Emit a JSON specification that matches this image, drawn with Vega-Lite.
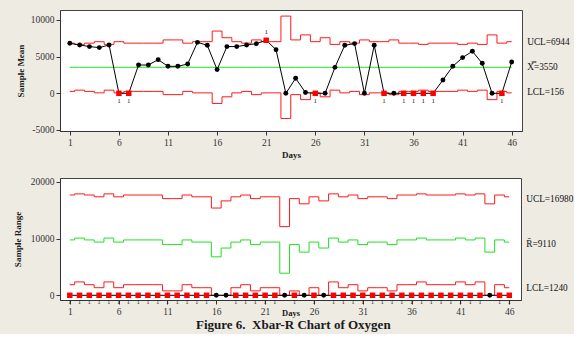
{
  "$schema": "https://vega.github.io/schema/vega-lite/v6.json",
  "background": "#EEEBE3",
  "padding": {"left": 12, "top": 9, "right": 0, "bottom": 2},
  "spacing": 16,
  "title": {"text": "Figure 6.\u00a0 Xbar-R Chart of Oxygen", "orient": "bottom", "anchor": "middle", "font": "Liberation Serif", "fontSize": 13, "fontWeight": "bold", "color": "#1a1a1a", "offset": 2},
  "datasets": {
    "d": [
      {"day":1,"mean":6820,"ux":6840,"cx":3550,"lx":260,"ox":0,"r":0,"ur":17700,"cr":9770,"lr":1870,"or":1},
      {"day":2,"mean":6590,"ux":6670,"cx":3550,"lx":430,"ox":0,"r":0,"ur":17900,"cr":10100,"lr":2360,"or":1},
      {"day":3,"mean":6370,"ux":6840,"cx":3550,"lx":260,"ox":0,"r":0,"ur":17700,"cr":9770,"lr":1870,"or":1},
      {"day":4,"mean":6230,"ux":7040,"cx":3550,"lx":60,"ox":0,"r":0,"ur":17380,"cr":9390,"lr":1340,"or":1},
      {"day":5,"mean":6590,"ux":6670,"cx":3550,"lx":430,"ox":0,"r":0,"ur":17900,"cr":10100,"lr":2360,"or":1},
      {"day":6,"mean":0,"ux":7040,"cx":3550,"lx":60,"ox":1,"r":0,"ur":17380,"cr":9390,"lr":1340,"or":1},
      {"day":7,"mean":0,"ux":6840,"cx":3550,"lx":260,"ox":1,"r":0,"ur":17700,"cr":9770,"lr":1870,"or":1},
      {"day":8,"mean":3860,"ux":6840,"cx":3550,"lx":260,"ox":0,"r":0,"ur":17700,"cr":9770,"lr":1870,"or":1},
      {"day":9,"mean":3860,"ux":6840,"cx":3550,"lx":260,"ox":0,"r":0,"ur":17700,"cr":9770,"lr":1870,"or":1},
      {"day":10,"mean":4590,"ux":6840,"cx":3550,"lx":260,"ox":0,"r":0,"ur":17700,"cr":9770,"lr":1870,"or":1},
      {"day":11,"mean":3680,"ux":7280,"cx":3550,"lx":-180,"ox":0,"r":0,"ur":17060,"cr":8950,"lr":780,"or":1},
      {"day":12,"mean":3680,"ux":7280,"cx":3550,"lx":-180,"ox":0,"r":0,"ur":17060,"cr":8950,"lr":780,"or":1},
      {"day":13,"mean":4000,"ux":6840,"cx":3550,"lx":260,"ox":0,"r":0,"ur":17700,"cr":9770,"lr":1870,"or":1},
      {"day":14,"mean":6950,"ux":7040,"cx":3550,"lx":60,"ox":0,"r":0,"ur":17380,"cr":9390,"lr":1340,"or":1},
      {"day":15,"mean":6550,"ux":7040,"cx":3550,"lx":60,"ox":0,"r":0,"ur":17380,"cr":9390,"lr":1340,"or":1},
      {"day":16,"mean":3230,"ux":8485,"cx":3550,"lx":-1385,"ox":0,"r":0,"ur":15400,"cr":6790,"lr":0,"or":0},
      {"day":17,"mean":6370,"ux":7580,"cx":3550,"lx":-480,"ox":0,"r":0,"ur":16660,"cr":8340,"lr":0,"or":0},
      {"day":18,"mean":6370,"ux":7040,"cx":3550,"lx":60,"ox":0,"r":0,"ur":17380,"cr":9390,"lr":1340,"or":1},
      {"day":19,"mean":6590,"ux":6840,"cx":3550,"lx":260,"ox":0,"r":0,"ur":17700,"cr":9770,"lr":1870,"or":1},
      {"day":20,"mean":6770,"ux":7280,"cx":3550,"lx":-180,"ox":0,"r":0,"ur":17060,"cr":8950,"lr":780,"or":1},
      {"day":21,"mean":7230,"ux":7040,"cx":3550,"lx":60,"ox":1,"r":0,"ur":17380,"cr":9390,"lr":1340,"or":1},
      {"day":22,"mean":5950,"ux":7040,"cx":3550,"lx":60,"ox":0,"r":0,"ur":17380,"cr":9390,"lr":1340,"or":1},
      {"day":23,"mean":0,"ux":10530,"cx":3550,"lx":-3430,"ox":0,"r":0,"ur":12120,"cr":3900,"lr":0,"or":0},
      {"day":24,"mean":2050,"ux":7280,"cx":3550,"lx":-180,"ox":0,"r":0,"ur":17060,"cr":8950,"lr":780,"or":1},
      {"day":25,"mean":100,"ux":7965,"cx":3550,"lx":-865,"ox":0,"r":0,"ur":16140,"cr":7620,"lr":0,"or":0},
      {"day":26,"mean":0,"ux":7040,"cx":3550,"lx":60,"ox":1,"r":0,"ur":17380,"cr":9390,"lr":1340,"or":1},
      {"day":27,"mean":0,"ux":7580,"cx":3550,"lx":-480,"ox":0,"r":0,"ur":16660,"cr":8340,"lr":0,"or":0},
      {"day":28,"mean":3540,"ux":6670,"cx":3550,"lx":430,"ox":0,"r":0,"ur":17900,"cr":10100,"lr":2360,"or":1},
      {"day":29,"mean":6550,"ux":7040,"cx":3550,"lx":60,"ox":0,"r":0,"ur":17380,"cr":9390,"lr":1340,"or":1},
      {"day":30,"mean":6780,"ux":6840,"cx":3550,"lx":260,"ox":0,"r":0,"ur":17700,"cr":9770,"lr":1870,"or":1},
      {"day":31,"mean":0,"ux":7280,"cx":3550,"lx":-180,"ox":0,"r":0,"ur":17060,"cr":8950,"lr":780,"or":1},
      {"day":32,"mean":6550,"ux":7040,"cx":3550,"lx":60,"ox":0,"r":0,"ur":17380,"cr":9390,"lr":1340,"or":1},
      {"day":33,"mean":0,"ux":7040,"cx":3550,"lx":60,"ox":1,"r":0,"ur":17380,"cr":9390,"lr":1340,"or":1},
      {"day":34,"mean":0,"ux":7280,"cx":3550,"lx":-180,"ox":0,"r":0,"ur":17060,"cr":8950,"lr":780,"or":1},
      {"day":35,"mean":0,"ux":6840,"cx":3550,"lx":260,"ox":1,"r":0,"ur":17700,"cr":9770,"lr":1870,"or":1},
      {"day":36,"mean":0,"ux":6840,"cx":3550,"lx":260,"ox":1,"r":0,"ur":17700,"cr":9770,"lr":1870,"or":1},
      {"day":37,"mean":0,"ux":6670,"cx":3550,"lx":430,"ox":1,"r":0,"ur":17900,"cr":10100,"lr":2360,"or":1},
      {"day":38,"mean":0,"ux":6840,"cx":3550,"lx":260,"ox":1,"r":0,"ur":17700,"cr":9770,"lr":1870,"or":1},
      {"day":39,"mean":1820,"ux":6840,"cx":3550,"lx":260,"ox":0,"r":0,"ur":17700,"cr":9770,"lr":1870,"or":1},
      {"day":40,"mean":3680,"ux":6840,"cx":3550,"lx":260,"ox":0,"r":0,"ur":17700,"cr":9770,"lr":1870,"or":1},
      {"day":41,"mean":4870,"ux":6670,"cx":3550,"lx":430,"ox":0,"r":0,"ur":17900,"cr":10100,"lr":2360,"or":1},
      {"day":42,"mean":5730,"ux":6840,"cx":3550,"lx":260,"ox":0,"r":0,"ur":17700,"cr":9770,"lr":1870,"or":1},
      {"day":43,"mean":4090,"ux":6670,"cx":3550,"lx":430,"ox":0,"r":0,"ur":17900,"cr":10100,"lr":2360,"or":1},
      {"day":44,"mean":0,"ux":7965,"cx":3550,"lx":-865,"ox":0,"r":0,"ur":16140,"cr":7620,"lr":0,"or":0},
      {"day":45,"mean":0,"ux":6840,"cx":3550,"lx":260,"ox":1,"r":0,"ur":17700,"cr":9770,"lr":1870,"or":1},
      {"day":46,"mean":4270,"ux":7040,"cx":3550,"lx":60,"ox":0,"r":0,"ur":17380,"cr":9390,"lr":1340,"or":1}
    ],
    "labx": [
      {"day":46,"v":6944,"label":"UCL=6944"},
      {"day":46,"v":3550,"label":"X̿=3550"},
      {"day":46,"v":156,"label":"LCL=156"}
    ],
    "labr": [
      {"day":46,"v":16980,"label":"UCL=16980"},
      {"day":46,"v":9110,"label":"R̄=9110"},
      {"day":46,"v":1240,"label":"LCL=1240"}
    ]
  },
  "vconcat": [
    {
      "width": 462,
      "height": 121,
      "layer": [
        {"data": {"name": "d"},
         "encoding": {
           "x": {"field": "day", "type": "quantitative", "scale": {"domain": [0, 47.05], "nice": false, "zero": false},
                 "axis": {"values": [1,6,11,16,21,26,31,36,41,46], "title": "Days", "titleY": 23, "titleBaseline": "middle"}}
         },
         "layer": [
          {"mark": {"type": "line", "interpolate": "step", "color": "#FF1A1A", "strokeWidth": 1},
           "encoding": {"y": {"field": "ux", "type": "quantitative", "title": "Sample Mean", "scale": {"domain": [-5140, 11360], "nice": false, "zero": false},
             "axis": {"values": [-5000,0,5000,10000], "labelExpr": "datum.value < 0 ? '-' + (-datum.value) : '' + datum.value"}}}},
          {"mark": {"type": "line", "interpolate": "step", "color": "#FF1A1A", "strokeWidth": 1},
           "encoding": {"y": {"field": "lx", "type": "quantitative", "title": "Sample Mean"}}},
          {"mark": {"type": "line", "color": "#22E022", "strokeWidth": 1},
           "encoding": {"y": {"field": "cx", "type": "quantitative", "title": "Sample Mean"}}},
          {"mark": {"type": "line", "color": "#000000", "strokeWidth": 1},
           "encoding": {"y": {"field": "mean", "type": "quantitative", "title": "Sample Mean"}}},
          {"transform": [{"filter": "datum.ox == 0"}],
           "mark": {"type": "point", "shape": "circle", "filled": true, "color": "#000000", "opacity": 1, "size": 24},
           "encoding": {"y": {"field": "mean", "type": "quantitative", "title": "Sample Mean"}}},
          {"transform": [{"filter": "datum.ox == 1"}],
           "mark": {"type": "square", "color": "#FF0000", "opacity": 1, "size": 30},
           "encoding": {"y": {"field": "mean", "type": "quantitative", "title": "Sample Mean"}}},
          {"transform": [{"filter": "datum.ox == 1 && datum.mean < 3550"}],
           "mark": {"type": "text", "text": "1", "dy": 8, "fontSize": 7, "font": "Liberation Serif", "color": "#222"},
           "encoding": {"y": {"field": "mean", "type": "quantitative", "title": "Sample Mean"}}},
          {"transform": [{"filter": "datum.ox == 1 && datum.mean > 3550"}],
           "mark": {"type": "text", "text": "1", "dy": -8, "fontSize": 7, "font": "Liberation Serif", "color": "#222"},
           "encoding": {"y": {"field": "mean", "type": "quantitative", "title": "Sample Mean"}}}
         ]
        },
        {"data": {"name": "labx"},
         "mark": {"type": "text", "align": "left", "baseline": "middle", "dx": 15.5, "font": "Liberation Serif", "fontSize": 9.3, "color": "#111"},
         "encoding": {"x": {"field": "day", "type": "quantitative"},
                      "y": {"field": "v", "type": "quantitative"},
                      "text": {"field": "label", "type": "nominal"}}}
      ]
    },
    {
      "width": 461,
      "height": 122,
      "layer": [
        {"data": {"name": "d"},
         "encoding": {
           "x": {"field": "day", "type": "quantitative", "scale": {"domain": [0, 47.2], "nice": false, "zero": false},
                 "axis": {"values": [1,6,11,16,21,26,31,36,41,46], "title": "Days", "titleY": 12, "titleBaseline": "middle", "titleFontSize": 8.5}}
         },
         "layer": [
          {"mark": {"type": "line", "interpolate": "step", "color": "#FF1A1A", "strokeWidth": 1},
           "encoding": {"y": {"field": "ur", "type": "quantitative", "title": "Sample Range", "scale": {"domain": [-830, 20700], "nice": false, "zero": false},
             "axis": {"values": [0,5000,10000,15000,20000], "labelExpr": "'' + datum.value", "titlePadding": 8}}}},
          {"mark": {"type": "line", "interpolate": "step", "color": "#22E022", "strokeWidth": 1},
           "encoding": {"y": {"field": "cr", "type": "quantitative", "title": "Sample Range"}}},
          {"mark": {"type": "line", "interpolate": "step", "color": "#FF1A1A", "strokeWidth": 1},
           "encoding": {"y": {"field": "lr", "type": "quantitative", "title": "Sample Range"}}},
          {"mark": {"type": "line", "color": "#000000", "strokeWidth": 1},
           "encoding": {"y": {"field": "r", "type": "quantitative", "title": "Sample Range"}}},
          {"transform": [{"filter": "datum.or == 0"}],
           "mark": {"type": "point", "shape": "circle", "filled": true, "color": "#000000", "opacity": 1, "size": 24},
           "encoding": {"y": {"field": "r", "type": "quantitative", "title": "Sample Range"}}},
          {"transform": [{"filter": "datum.or == 1"}],
           "mark": {"type": "square", "color": "#FF0000", "opacity": 1, "size": 30},
           "encoding": {"y": {"field": "r", "type": "quantitative", "title": "Sample Range"}}},
          {"transform": [{"filter": "datum.or == 1"}],
           "mark": {"type": "text", "text": "1", "dy": 7, "fontSize": 6, "font": "Liberation Serif", "color": "#222"},
           "encoding": {"y": {"field": "r", "type": "quantitative", "title": "Sample Range"}}}
         ]
        },
        {"data": {"name": "labr"},
         "mark": {"type": "text", "align": "left", "baseline": "middle", "dx": 17, "font": "Liberation Serif", "fontSize": 9.3, "color": "#111"},
         "encoding": {"x": {"field": "day", "type": "quantitative"},
                      "y": {"field": "v", "type": "quantitative"},
                      "text": {"field": "label", "type": "nominal"}}}
      ]
    }
  ],
  "config": {
    "font": "Liberation Serif",
    "view": {"stroke": "#444444", "fill": "#FFFFFF", "strokeWidth": 1},
    "axis": {
      "grid": false,
      "labelFont": "Liberation Serif", "labelFontSize": 9.5, "labelColor": "#333333",
      "titleFont": "Liberation Serif", "titleFontSize": 9, "titleFontWeight": "bold", "titleColor": "#1a1a1a",
      "domainColor": "#333333", "tickColor": "#333333", "tickSize": 4, "labelPadding": 2, "titlePadding": 5
    }
  }
}
